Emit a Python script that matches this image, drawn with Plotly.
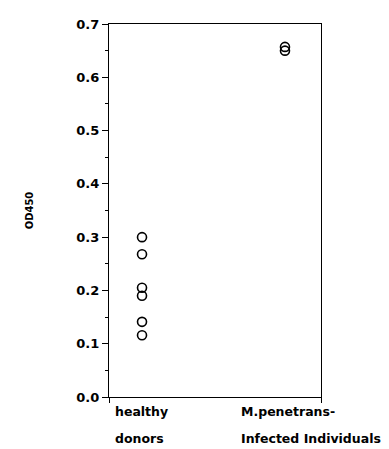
import plotly.graph_objects as go

categories = ["healthy donors", "M.penetrans-infected individuals"]
label_line1 = ["healthy", "M.penetrans-"]
label_line2 = ["donors", "Infected Individuals"]
healthy_od = [0.300, 0.268, 0.205, 0.190, 0.141, 0.116]
infected_od = [0.657, 0.650]
y_ticks = [0.0, 0.1, 0.2, 0.3, 0.4, 0.5, 0.6, 0.7]
y_ticktext = ["0.0", "0.1", "0.2", "0.3", "0.4", "0.5", "0.6", "0.7"]

FONT = "DejaVu Sans"
marker = dict(symbol="circle-open", size=9, color="black", line=dict(width=1.6, color="black"))

fig = go.Figure()
fig.add_trace(go.Scatter(x=[0] * len(healthy_od), y=healthy_od, mode="markers",
                         marker=marker, showlegend=False, name=categories[0]))
fig.add_trace(go.Scatter(x=[1] * len(infected_od), y=infected_od, mode="markers",
                         marker=marker, showlegend=False, name=categories[1]))

xr = [-0.231, 1.252]
fig.update_layout(
    width=381, height=441,
    margin=dict(l=101, r=68, t=9, b=52),
    paper_bgcolor="white", plot_bgcolor="white",
    font=dict(family=FONT, color="black"),
    xaxis=dict(range=xr, showgrid=False, zeroline=False, showline=True, linecolor="black",
               linewidth=1.2, mirror=True, tickvals=xr, ticks="outside", ticklen=5,
               tickcolor="black", showticklabels=False),
    yaxis=dict(range=[0, 0.7], showgrid=False, zeroline=False, showline=True, linecolor="black",
               linewidth=1.2, mirror=True, tickvals=y_ticks, ticktext=y_ticktext,
               ticks="outside", ticklen=6, tickcolor="black",
               tickfont=dict(family=FONT, size=13, weight="bold"),
               minor=dict(dtick=0.05, ticks="outside", ticklen=3, tickcolor="black"),
               title=dict(text="OD450", font=dict(family=FONT, size=10, weight="bold"), standoff=40)),
)

shifts = [-29, -46]
for i in range(len(categories)):
    fig.add_annotation(x=i, y=-0.04, xref="x", yref="paper", text=label_line1[i],
                       showarrow=False, xanchor="left", yanchor="middle", xshift=shifts[i],
                       font=dict(family=FONT, size=12.5, weight="bold"))
    fig.add_annotation(x=i, y=-0.11, xref="x", yref="paper", text=label_line2[i],
                       showarrow=False, xanchor="left", yanchor="middle", xshift=shifts[i],
                       font=dict(family=FONT, size=12.5, weight="bold"))

fig.write_html("out.html")
